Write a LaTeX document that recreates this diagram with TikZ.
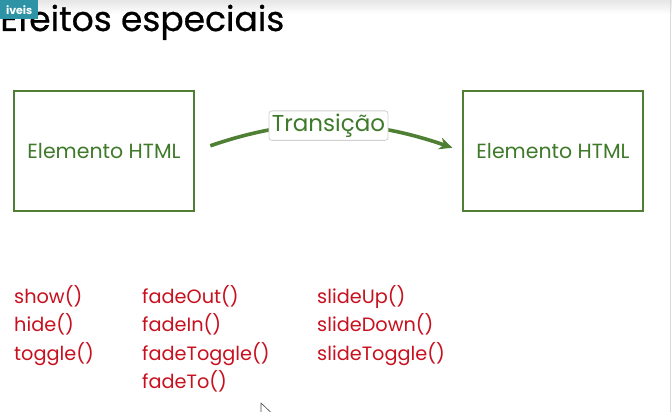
\documentclass[tikz,border=0pt]{standalone}
\usepackage{fontspec}
\setmainfont{Poppins}
\usetikzlibrary{arrows.meta}
\definecolor{boxgreen}{HTML}{4E7F32}
\definecolor{txtgreen}{HTML}{3F7A2A}
\definecolor{fnred}{HTML}{C8101E}
\definecolor{badge}{HTML}{2F93A6}
\definecolor{lblframe}{HTML}{D0D0D0}
\begin{document}
\begin{tikzpicture}[x=1pt,y=-1pt,
  elembox/.style={draw=boxgreen,line width=2.4pt,minimum width=180pt,minimum height=120pt,
    inner sep=0pt,text=txtgreen,font=\fontsize{20.5}{22}\selectfont},
  lbl/.style={draw=lblframe,line width=0.8pt,rounded corners=3pt,fill=white,text=txtgreen,
    font=\fontsize{23}{26}\selectfont,inner xsep=3pt,inner ysep=3pt},
  flow/.style={draw=boxgreen,line width=3.6pt,-{Stealth[length=13pt,width=12pt]}},
  fn/.style={anchor=base west,inner sep=0pt,text=fnred,font=\fontsize{19.3}{21}\selectfont}]
\useasboundingbox (0,0) rectangle (672,412);
\clip (0,0) rectangle (672,412);

% page background with a light band at the top
\fill[white] (0,0) rectangle (672,412);
\shade[top color=black!10,bottom color=white] (0,0) rectangle (672,14);
\draw[black!15,line width=1pt] (670,0) -- (670,412);

% title
\node[anchor=base west,inner sep=0pt,font=\fontsize{34.5}{38}\selectfont\addfontfeature{FakeBold=0.6}] (title) at (0,31) {Efeitos especiais};

% small tab in the top left corner
\node[fill=badge,text=white,anchor=north west,minimum width=38pt,minimum height=19pt,
  inner sep=0pt,font=\fontsize{11}{12}\selectfont\bfseries] (tab) at (0,0) {iveis};

% the two elements
\node[elembox] (a) at (104,151) {Elemento HTML};
\node[elembox] (b) at (553,151) {Elemento HTML};

% transition arrow
\draw[flow,shorten <=16pt,shorten >=10pt] (a.east) to[bend left=19]
  node[lbl] (t) {Transição} (b.west);

% effect methods
\node[fn] (show) at (14,303) {show()};
\node[fn] (hide) at (14,331) {hide()};
\node[fn] (toggle) at (14,360) {toggle()};

\node[fn] (fadeout) at (142,303) {fadeOut()};
\node[fn] (fadein) at (142,331) {fadeIn()};
\node[fn] (fadetoggle) at (142,360) {fadeToggle()};
\node[fn] (fadeto) at (142,388) {fadeTo()};

\node[fn] (slideup) at (317,303) {slideUp()};
\node[fn] (slidedown) at (317,331) {slideDown()};
\node[fn] (slidetoggle) at (317,360) {slideToggle()};

% mouse pointer
\draw[black!70,fill=white,line width=0.6pt,line join=round]
  (261,403) -- (261,417) -- (264.5,413.5) -- (267,419) -- (269,418) -- (266.5,412.5) -- (271,412.5) -- cycle;
\end{tikzpicture}
\end{document}
